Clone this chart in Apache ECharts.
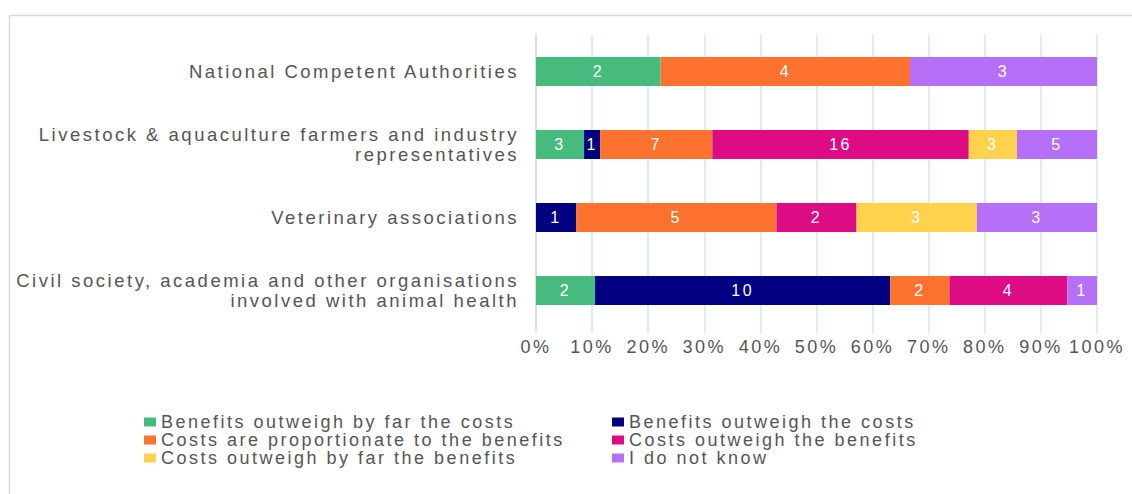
<!DOCTYPE html>
<html>
<head>
<meta charset="utf-8">
<script src="https://cdn.jsdelivr.net/npm/echarts@6/dist/echarts.min.js"></script>
<style>
  html, body { margin: 0; padding: 0; background: #fff; }
  #chart { width: 1132px; height: 494px; }
  /* the labels are set with wide letter spacing */
  #chart text { letter-spacing: 2.5px; }
</style>
</head>
<body>
<div id="chart"></div>
<script>
// Respondent groups, listed top to bottom
const groups = [
  'National Competent Authorities',
  'Livestock & aquaculture farmers and industry\nrepresentatives',
  'Veterinary associations',
  'Civil society, academia and other organisations\ninvolved with animal health'
];

// Answer options (series), in stacking order
const answers = [
  'Benefits outweigh by far the costs',
  'Benefits outweigh the costs',
  'Costs are proportionate to the benefits',
  'Costs outweigh the benefits',
  'Costs outweigh by far the benefits',
  'I do not know'
];

// Number of respondents per group for each answer
const benefitsFarOutweigh = [2, 3, 0, 2];
const benefitsOutweigh    = [0, 1, 1, 10];
const costsProportionate  = [4, 7, 5, 2];
const costsOutweigh       = [0, 16, 2, 4];
const costsFarOutweigh    = [0, 3, 3, 0];
const doNotKnow           = [3, 5, 3, 1];

const answerCounts = [
  benefitsFarOutweigh, benefitsOutweigh, costsProportionate,
  costsOutweigh, costsFarOutweigh, doNotKnow
];

const colors = ['#47bb7e', '#000080', '#fe722f', '#dd0b84', '#ffd24e', '#b670f8'];

// Each group's bar spans 100 %: shares are counts over the group total
const totals = groups.map((_, g) => answerCounts.reduce((s, arr) => s + arr[g], 0));

const FONT = "'Liberation Sans', Arial, sans-serif";
const TEXT_GREY = '#555555';
const GRID_TEAL = '#d0e9e4';

const series = answers.map((name, k) => ({
  name,
  type: 'bar',
  stack: 'share',
  barWidth: 29,
  itemStyle: { color: colors[k] },
  emphasis: { disabled: true },
  label: {
    show: true,
    position: 'inside',
    color: '#ffffff',
    fontSize: 16,
    fontFamily: FONT,
    formatter: p => (p.data.count ? String(p.data.count) : '')
  },
  data: answerCounts[k].map((c, g) => ({ value: (c / totals[g]) * 100, count: c }))
}));

const legendBase = {
  orient: 'vertical',
  top: 413,
  padding: 0,
  itemWidth: 12,
  itemHeight: 9,
  itemGap: 0,
  icon: 'rect',
  selectedMode: false,
  textStyle: { fontSize: 18, color: TEXT_GREY, lineHeight: 18, fontFamily: FONT }
};

const chart = echarts.init(document.getElementById('chart'), null, { renderer: 'svg' });

chart.setOption({
  animation: false,
  textStyle: { fontFamily: FONT },
  graphic: [{
    type: 'rect',
    silent: true,
    z: -10,
    shape: { x: 9.5, y: 15.5, width: 1300, height: 700 },
    style: { fill: 'none', stroke: '#d9d9d9', lineWidth: 1.5 }
  }],
  grid: {
    left: 536, top: 35, width: 561, height: 292,
    containLabel: false, outerBoundsMode: 'none'
  },
  xAxis: {
    type: 'value',
    min: 0, max: 100, interval: 10,
    axisLine: { show: false },
    axisTick: { show: true, length: 6, lineStyle: { color: GRID_TEAL, width: 1.5 } },
    splitLine: { show: true, lineStyle: { color: GRID_TEAL, width: 1.5 } },
    axisLabel: {
      formatter: '{value}%',
      color: TEXT_GREY, fontSize: 18, fontFamily: FONT, margin: 11
    }
  },
  yAxis: {
    type: 'category',
    inverse: true,
    data: groups,
    axisLine: { show: true, lineStyle: { color: '#d9d9d9', width: 1.5 } },
    axisTick: { show: false },
    axisLabel: {
      color: TEXT_GREY, fontSize: 18.5, fontFamily: FONT, lineHeight: 20,
      margin: 17, align: 'right'
    }
  },
  legend: [
    Object.assign({}, legendBase, { left: 144, data: [answers[0], answers[2], answers[4]] }),
    Object.assign({}, legendBase, { left: 612, data: [answers[1], answers[3], answers[5]] })
  ],
  series
});
</script>
</body>
</html>
